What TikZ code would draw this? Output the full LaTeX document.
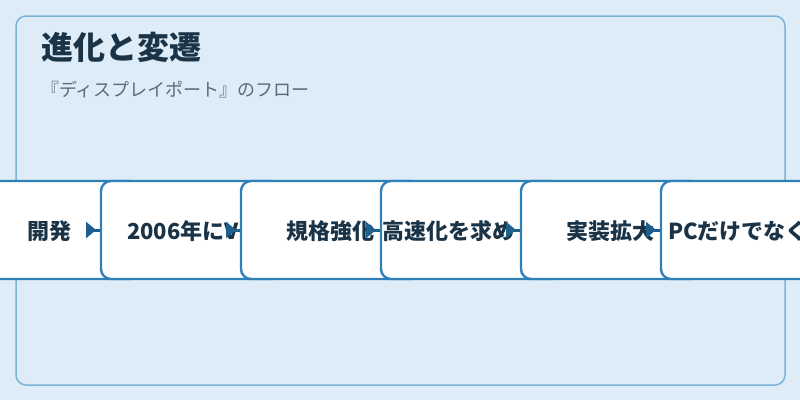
\documentclass[tikz,border=0pt]{standalone}
\usepackage{fontspec}
\setmainfont{Noto Sans CJK JP}
\usetikzlibrary{arrows.meta}

\definecolor{bgblue}{HTML}{DDECF7}
\definecolor{panelline}{HTML}{7DB3D7}
\definecolor{boxline}{HTML}{2F80B9}
\definecolor{arrowblue}{HTML}{1E5F8E}
\definecolor{inkblue}{HTML}{1B3346}
\definecolor{subgray}{HTML}{5B6B79}

\tikzset{
  panel/.style={rectangle, rounded corners=10pt, draw=panelline, line width=1.5pt,
    minimum width=769pt, minimum height=369pt, inner sep=0pt},
  titletext/.style={anchor=west, inner sep=0pt, text=inkblue,
    font=\fontsize{32}{32}\selectfont\bfseries},
  subtext/.style={anchor=west, inner sep=0pt, text=subgray,
    font=\fontsize{18}{18}\selectfont},
  stage/.style={rectangle, rounded corners=10pt, draw=boxline, line width=2.4pt,
    fill=white, minimum width=180pt, minimum height=98pt, inner sep=0pt},
  stagetext/.style={anchor=west, inner sep=0pt, text=inkblue,
    font=\fontsize{22}{22}\selectfont\bfseries},
  flow/.style={draw=arrowblue, line width=3pt,
    {Triangle[reversed, length=10pt, width=16pt]}-},
}

\begin{document}
\begin{tikzpicture}[x=1pt,y=-1pt]
	\useasboundingbox (0,0) rectangle (800,400);
	\fill[bgblue] (0,0) rectangle (800,400);
	\clip (0,0) rectangle (800,400);

	\node at (400.5,200.5) [panel] (frame) {};
	\node at (41,47) [titletext] (title) {進化と変遷};
	\node at (41,89.5) [subtext] (sub) {『ディスプレイポート』のフロー};

	% stages, each one laid over the one before
	\node at (50,230) [stage] (b1) {};
	\node at (27,231.5) [stagetext] (t1) {開発};

	\node at (191,230) [stage] (b2) {};
	\coordinate (s2) at (86,230);
	\draw [flow] (s2) -- (b2.west);
	\node at (127,231.5) [stagetext] (t2) {2006年にV};

	\node at (331,230) [stage] (b3) {};
	\coordinate (s3) at (226,230);
	\draw [flow] (s3) -- (b3.west);
	\node at (286,231.5) [stagetext] (t3) {規格強化};

	\node at (471,230) [stage] (b4) {};
	\coordinate (s4) at (366,230);
	\draw [flow] (s4) -- (b4.west);
	\node at (382,231.5) [stagetext] (t4) {高速化を求め};

	\node at (611,230) [stage] (b5) {};
	\coordinate (s5) at (506,230);
	\draw [flow] (s5) -- (b5.west);
	\node at (566,231.5) [stagetext] (t5) {実装拡大};

	\node at (751,230) [stage] (b6) {};
	\coordinate (s6) at (646,230);
	\draw [flow] (s6) -- (b6.west);
	\node at (668,231.5) [stagetext] (t6) {PCだけでなく};
\end{tikzpicture}
\end{document}
